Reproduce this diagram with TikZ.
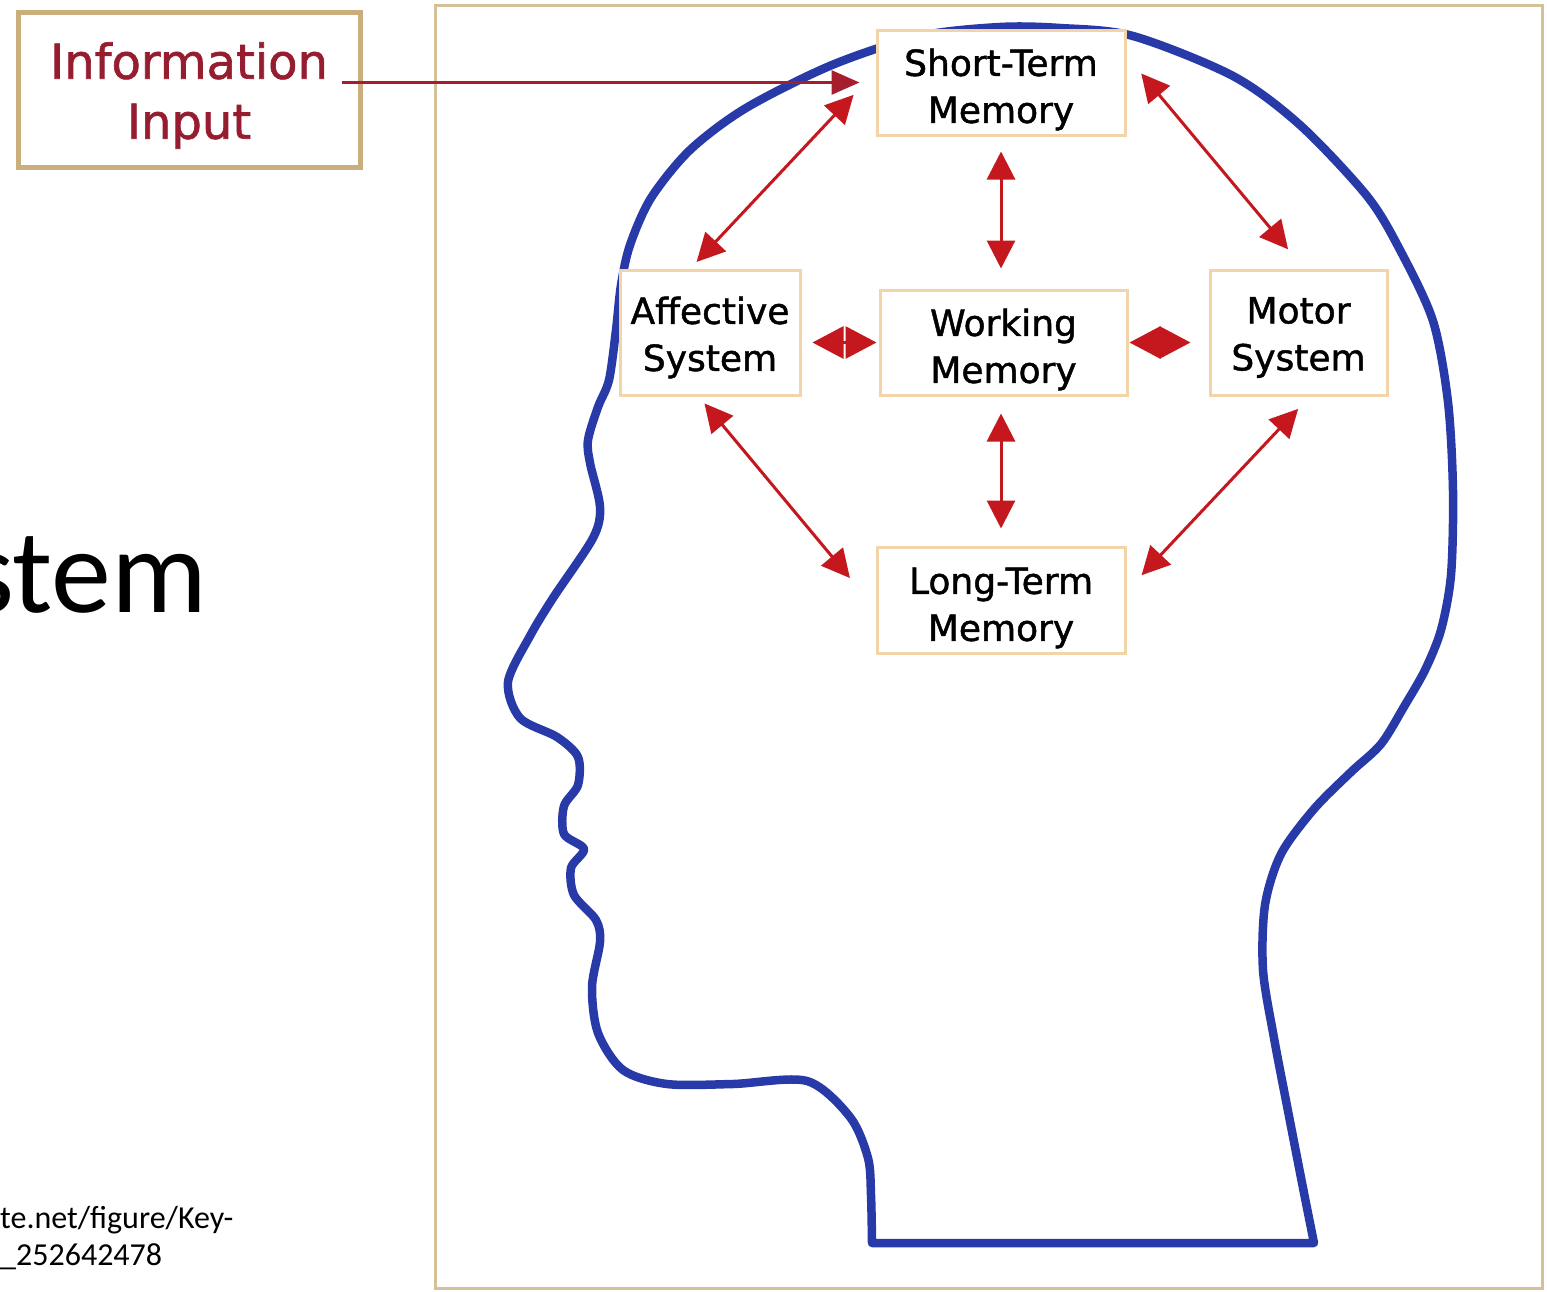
\documentclass[tikz,border=0pt]{standalone}
\usepackage{fontspec}
\setmainfont{DejaVu Sans}
\newfontfamily\boxfont{DejaVu Sans}[FakeBold=1.3]
\newfontfamily\calibri{Carlito}
\usetikzlibrary{arrows.meta}
\definecolor{headblue}{RGB}{40,58,168}
\definecolor{arrowred}{RGB}{196,24,30}
\definecolor{inred}{RGB}{165,30,45}
\definecolor{tanframe}{RGB}{214,192,152}
\definecolor{infoborder}{RGB}{202,174,126}
\definecolor{boxborder}{RGB}{242,212,168}
\definecolor{infotext}{RGB}{150,28,48}
\begin{document}
\begin{tikzpicture}[x=1pt,y=-1pt,
  box/.style={draw=boxborder, line width=3pt, fill=white, inner sep=0pt},
  boxtext/.style={inner sep=0pt, align=center, font=\boxfont\fontsize{36}{47}\selectfont},
  infobox/.style={draw=infoborder, line width=5pt, fill=white, inner sep=0pt},
  infotxt/.style={inner sep=0pt, align=center, text=infotext, font=\boxfont\fontsize{48}{60}\selectfont},
  link/.style={draw=arrowred, line width=3pt,
    {Triangle[length=28pt,width=28pt]}-{Triangle[length=28pt,width=28pt]}},
  shortlink/.style={draw=arrowred, line width=3pt,
    {Triangle[length=31pt,width=32pt]}-{Triangle[length=31pt,width=32pt]}},
  inarrow/.style={draw=inred, line width=3pt, -{Triangle[length=28pt,width=24pt]}},
  srctext/.style={anchor=base west, inner sep=0pt, font=\calibri\fontsize{32}{38}\selectfont}
]
\useasboundingbox (0,0) rectangle (1547,1291);
\fill[white] (0,0) rectangle (1547,1291);

% left slide text
\node[anchor=base west, inner sep=0pt, font=\calibri\fontsize{120}{140}\selectfont] (stemtxt) at (-33,612) {stem};
\node[srctext] (src1) at (0,1228) {te.net/figure/Key-};
\node[srctext] (src2) at (0,1265) {\_252642478};

% frame
\draw[tanframe, line width=3pt] (435,5) rectangle (1542,1288);

% head outline
\draw[headblue, line width=8.5pt, line join=round] plot[smooth, tension=0.5] coordinates {
 (872,1243) (871,1195) (868,1158) (850,1117) (807,1081) (733,1084) (667,1084)
 (623,1070) (598,1033) (592,987) (600,942) (596,920) (574,895) (571,868)
 (584,849) (564,834) (564,806) (578,785) (578,757) (557,737) (520,718)
 (508,682) (530,636) (553,598) (593,538) (600,507) (590,463) (588,440)
 (598,407) (609,380) (616,330) (621,285) (630,245) (651,198) (690,150)
 (746,108) (832,65) (920,36) (1000,27) (1060,28) (1133,36) (1233,76)
 (1300,125) (1367,196) (1400,250) (1433,321) (1448,402) (1453,491)
 (1451,575) (1441,630) (1425,670) (1405,705) (1381,744) (1351,772)
 (1314,809) (1281,854) (1265,905) (1263,970) (1274,1038) (1288,1111)
 (1304,1193) (1314,1243)} -- cycle;

% boxes
\node[infobox, minimum width=342pt, minimum height=155pt] (info) at (189,89.5) {};
\node[infotxt] (infotext) at ([yshift=-6pt]info.center) {Information\\Input};
\node[box, minimum width=248pt, minimum height=105pt] (stm) at (1001,82.5) {};
\node[boxtext] (stmtext) at ([yshift=-7pt]stm.center) {Short-Term\\Memory};
\node[box, minimum width=180pt, minimum height=125pt] (aff) at (710,332.5) {};
\node[boxtext] (afftext) at ([yshift=-5pt]aff.center) {Affective\\System};
\node[box, minimum width=247pt, minimum height=105pt] (wm) at (1003.5,342.5) {};
\node[boxtext] (wmtext) at ([yshift=-7pt]wm.center) {Working\\Memory};
\node[box, minimum width=177pt, minimum height=125pt] (motor) at (1298.5,332.5) {};
\node[boxtext] (motortext) at ([yshift=-5pt]motor.center) {Motor\\System};
\node[box, minimum width=248pt, minimum height=106pt] (ltm) at (1001,600) {};
\node[boxtext] (ltmtext) at ([yshift=-8pt]ltm.center) {Long-Term\\Memory};

% arrows
\draw[inarrow, shorten <=-21pt, shorten >=16pt] (info.east |- stm.west) -- (stm.west);
\draw[link, shorten <=32pt, shorten >=9pt] (stm.175) -- (aff.107);
\draw[link, shorten <=23pt, shorten >=25pt] (stm.12) -- (motor.85);
\draw[link, shorten <=15pt, shorten >=20pt] (stm.south) -- (stm.south |- wm.north);
\draw[link, shorten <=17pt, shorten >=17pt] (ltm.north |- wm.south) -- (ltm.north);
\draw[link, shorten <=9pt, shorten >=40pt] (aff.260) -- (ltm.184);
\draw[link, shorten <=17pt, shorten >=22pt] (motor.280) -- (ltm.4);
\draw[shortlink, shorten <=11pt, shorten >=2pt] (aff.east |- wm.west) -- (wm.west);
\draw[shortlink, shorten <=1pt, shorten >=18pt] (wm.east) -- (motor.west |- wm.east);
\end{tikzpicture}
\end{document}
